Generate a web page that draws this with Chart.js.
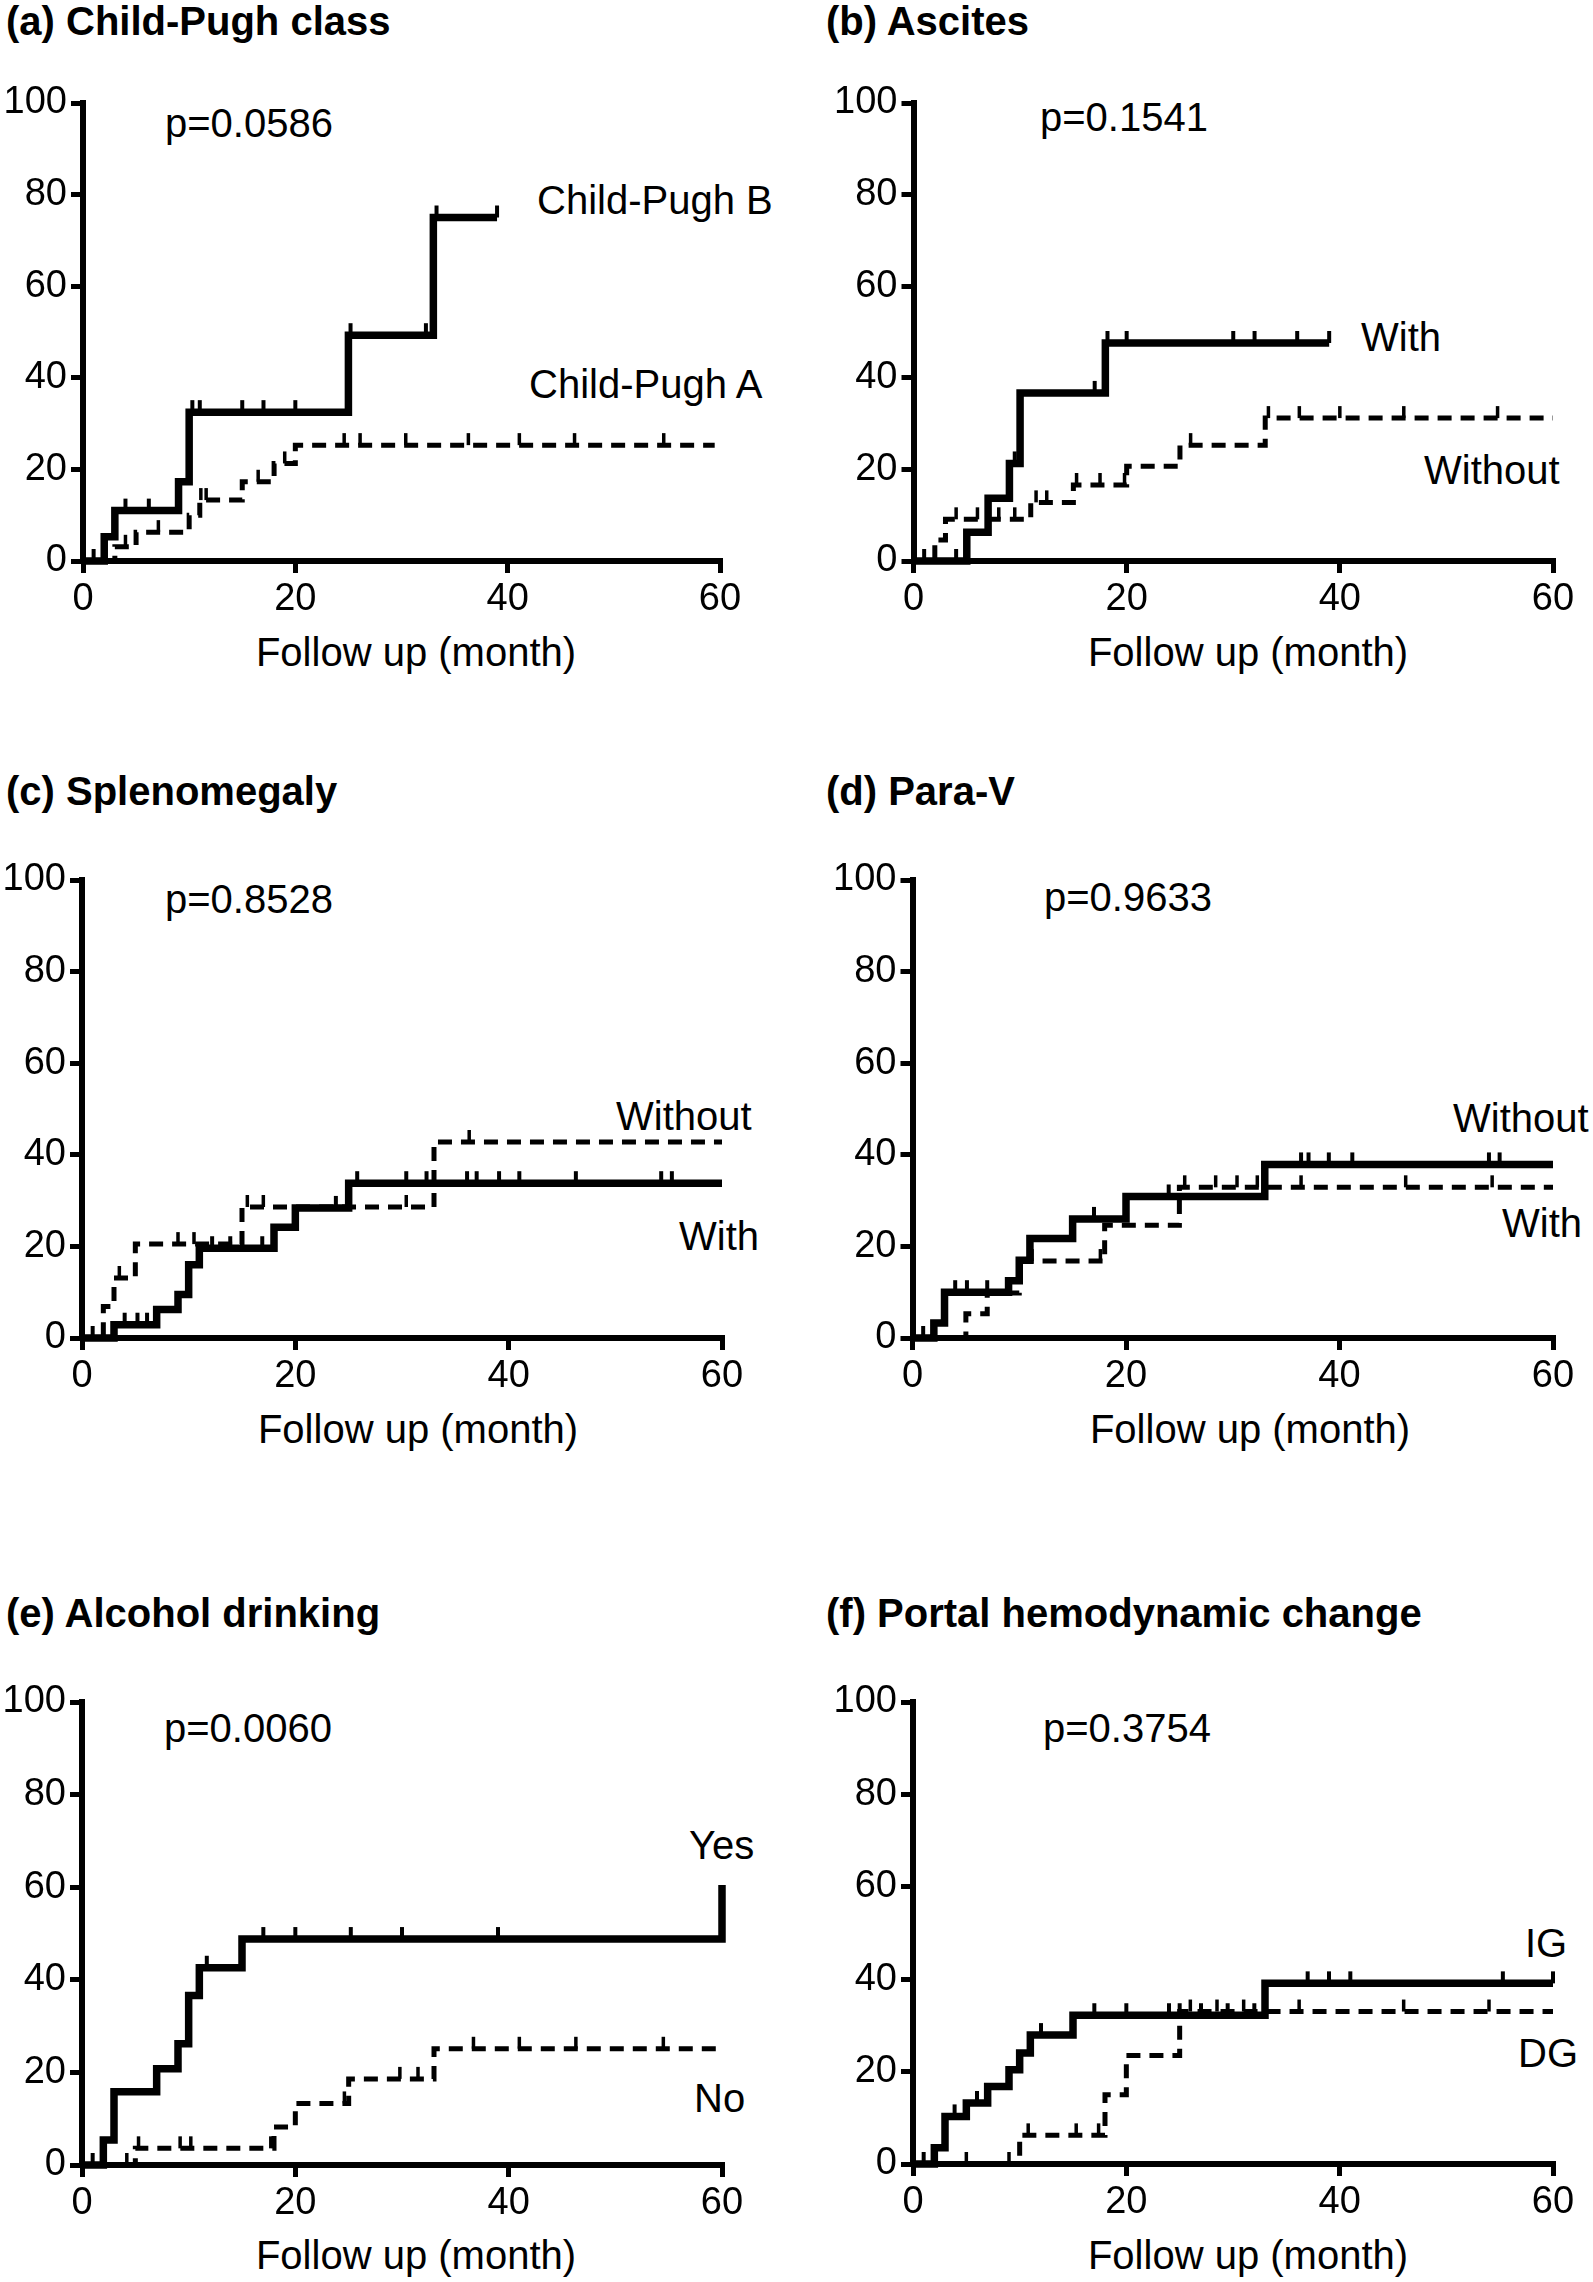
<!DOCTYPE html>
<html lang="en">
<head>
<meta charset="UTF-8">
<title>Cumulative incidence by risk factor</title>
<script src="https://cdn.jsdelivr.net/npm/chart.js"></script>
<style>
  body { margin: 0; background: #fff; }
  #page { position: relative; width: 1593px; height: 2282px; overflow: hidden;
          font-family: "Liberation Sans", Arial, sans-serif; color: #000; background: #fff; }
  canvas { position: absolute; }
  .txt { position: absolute; font-size: 40px; line-height: 40px; white-space: nowrap; }
  .ttl { font-weight: bold; }
  .xt { text-align: center; width: 400px; }
</style>
</head>
<body>
<div id="page">
  <!-- panel titles -->
  <div class="txt ttl" style="left:6px; top:1px;">(a) Child-Pugh class</div>
  <div class="txt ttl" style="left:826px; top:1px;">(b) Ascites</div>
  <div class="txt ttl" style="left:6px; top:771px;">(c) Splenomegaly</div>
  <div class="txt ttl" style="left:826px; top:771px;">(d) Para-V</div>
  <div class="txt ttl" style="left:6px; top:1593px;">(e) Alcohol drinking</div>
  <div class="txt ttl" style="left:826px; top:1593px;">(f) Portal hemodynamic change</div>

  <!-- p values -->
  <div class="txt" style="left:165px; top:103px;">p=0.0586</div>
  <div class="txt" style="left:1040px; top:97px;">p=0.1541</div>
  <div class="txt" style="left:165px; top:879px;">p=0.8528</div>
  <div class="txt" style="left:1044px; top:877px;">p=0.9633</div>
  <div class="txt" style="left:164px; top:1708px;">p=0.0060</div>
  <div class="txt" style="left:1043px; top:1708px;">p=0.3754</div>

  <!-- curve labels -->
  <div class="txt" style="left:537px; top:180px;">Child-Pugh B</div>
  <div class="txt" style="left:529px; top:364px;">Child-Pugh A</div>
  <div class="txt" style="left:1361px; top:317px;">With</div>
  <div class="txt" style="left:1424px; top:450px;">Without</div>
  <div class="txt" style="left:616px; top:1096px;">Without</div>
  <div class="txt" style="left:679px; top:1216px;">With</div>
  <div class="txt" style="left:1453px; top:1098px;">Without</div>
  <div class="txt" style="left:1502px; top:1203px;">With</div>
  <div class="txt" style="left:689px; top:1825px;">Yes</div>
  <div class="txt" style="left:694px; top:2078px;">No</div>
  <div class="txt" style="left:1525px; top:1923px;">IG</div>
  <div class="txt" style="left:1518px; top:2033px;">DG</div>

  <!-- x axis titles -->
  <div class="txt xt" style="left:216px; top:632px;">Follow up (month)</div>
  <div class="txt xt" style="left:1048px; top:632px;">Follow up (month)</div>
  <div class="txt xt" style="left:218px; top:1409px;">Follow up (month)</div>
  <div class="txt xt" style="left:1050px; top:1409px;">Follow up (month)</div>
  <div class="txt xt" style="left:216px; top:2235px;">Follow up (month)</div>
  <div class="txt xt" style="left:1048px; top:2235px;">Follow up (month)</div>

  <canvas id="chartA"></canvas>
  <canvas id="chartB"></canvas>
  <canvas id="chartC"></canvas>
  <canvas id="chartD"></canvas>
  <canvas id="chartE"></canvas>
  <canvas id="chartF"></canvas>
</div>

<script>
// axis ticks
const X_TICKS = [0, 20, 40, 60];
const Y_TICKS = [0, 20, 40, 60, 80, 100];

// (a) Child-Pugh class  -- time (month), cumulative % after each step, censored times
const cpB_time = [0, 2, 3, 9, 10, 25, 33, 39];
const cpB_pct  = [0, 5.3, 11.0, 17.3, 32.5, 49.3, 75.0, 75.0];
const cpB_cens = [1, 4, 6.2, 10.3, 11, 15, 17, 20, 25.2, 32.3, 33.3, 39];
const cpA_time = [0, 3, 5, 10, 11, 15, 18, 20, 59.5];
const cpA_pct  = [0, 3.1, 6.3, 10.0, 13.3, 17.3, 21.3, 25.3, 25.3];
const cpA_cens = [4, 7.1, 11.1, 11.6, 16.5, 19, 24.6, 26.1, 30.4, 36.3, 41.1, 46.3, 54.7];

// (b) Ascites
const ascW_time  = [0, 5, 7, 9, 10, 18, 39];
const ascW_pct   = [0, 6.3, 13.7, 21.3, 36.7, 47.6, 47.6];
const ascW_cens  = [1, 4, 9.5, 17, 18.2, 20, 30, 32, 36, 39];
const ascWo_time = [0, 2, 3, 11, 15, 20, 25, 33, 60];
const ascWo_pct  = [0, 4.6, 9.1, 12.8, 16.6, 20.7, 25.3, 31.2, 31.2];
const ascWo_cens = [4, 6, 8, 9.5, 11.5, 12.5, 15.3, 17.5, 19.8, 26, 33.3, 36.2, 40, 46, 54.8];

// (c) Splenomegaly
const splW_time  = [0, 3, 7, 9, 10, 11, 18, 20, 25, 60];
const splW_pct   = [0, 2.9, 6.2, 9.5, 16.0, 19.6, 24.2, 28.4, 33.8, 33.8];
const splW_cens  = [1, 4, 5.2, 6.1, 12.2, 13.9, 15, 16.9, 23.8, 25.8, 30.4, 32.3, 36.1, 37, 39.1, 41, 46.3, 54.3, 55.3];
const splWo_time = [0, 2, 3, 5, 15, 33, 60];
const splWo_pct  = [0, 6.9, 13.1, 20.5, 28.6, 42.8, 42.8];
const splWo_cens = [3.5, 9, 10.5, 15.5, 17, 30.4, 36.3];

// (d) Para-V
const pvWo_time = [0, 2, 3, 9, 10, 11, 15, 20, 33, 60];
const pvWo_pct  = [0, 3.3, 10.0, 12.5, 17.0, 21.7, 26.0, 30.9, 37.9, 37.9];
const pvWo_cens = [1, 4, 5.1, 7, 17, 24, 36.4, 37.1, 39, 41.2, 54, 55];
const pvW_time  = [0, 5, 7, 10, 18, 25, 60];
const pvW_pct   = [0, 5.3, 9.8, 16.8, 24.6, 32.9, 32.9];
const pvW_cens  = [11.2, 17.6, 25.5, 28.4, 30.4, 32.3, 36.4, 46.2, 54.3];

// (e) Alcohol drinking
const alcY_time = [0, 2, 3, 7, 9, 10, 11, 15, 60];
const alcY_pct  = [0, 5.4, 15.8, 20.8, 26.2, 36.6, 42.6, 48.8, 60.5];
const alcY_cens = [1, 11.7, 17, 20, 25.2, 30, 39];
const alcN_time = [0, 5, 18, 20, 25, 33, 59.5];
const alcN_pct  = [0, 3.6, 8.2, 13.3, 18.6, 25.1, 25.1];
const alcN_cens = [4.2, 5.3, 9.2, 10.2, 17.7, 24.6, 29.8, 31.5, 36.7, 41, 46.3, 54.5];

// (f) Portal hemodynamic change
const phIG_time = [0, 2, 3, 5, 7, 9, 10, 11, 15, 33, 60];
const phIG_pct  = [0, 3.5, 10.3, 13.2, 16.8, 20.4, 24.0, 27.9, 32.2, 39.1, 39.1];
const phIG_cens = [1, 3.9, 6, 12, 17, 20, 24, 25, 27, 29.5, 32, 37, 39, 41, 55.3, 60];
const phDG_time = [0, 10, 18, 20, 25, 60];
const phDG_pct  = [0, 6.2, 15.0, 23.5, 33.0, 33.0];
const phDG_cens = [5, 9, 10.8, 15.3, 17.4, 26, 28.5, 31, 36.2, 46, 54];

const FONT = "'Liberation Sans', Arial, sans-serif";
const X_AXIS_H = 70;

function valueAt(times, pcts, t) {
  let v = pcts[0];
  for (let i = 0; i < times.length; i++) if (times[i] <= t) v = pcts[i];
  return v;
}

// little upward ticks for censored cases
const censorMarks = {
  id: 'censorMarks',
  afterDatasetsDraw(chart) {
    const { ctx, scales: { x, y } } = chart;
    ctx.save();
    ctx.strokeStyle = '#000';
    ctx.setLineDash([]);
    chart.data.datasets.forEach(ds => {
      ctx.lineWidth = ds.solid ? 4 : 3.5;
      ds.censored.forEach(t => {
        const px = x.getPixelForValue(t);
        const py = y.getPixelForValue(valueAt(ds.times, ds.pcts, t));
        ctx.beginPath();
        ctx.moveTo(px, py);
        ctx.lineTo(px, py - 12);
        ctx.stroke();
      });
    });
    ctx.restore();
  }
};

function axis(min, max, ticks, extra) {
  return Object.assign({
    type: 'linear', min: min, max: max,
    afterBuildTicks: s => { s.ticks = ticks.map(v => ({ value: v })); },
    grid: { drawOnChartArea: false, drawTicks: true, tickLength: 12, color: '#000', lineWidth: 5 },
    border: { display: true, color: '#000', width: 6 },
    ticks: { color: '#000', font: { family: FONT, size: 38 }, padding: 4, maxRotation: 0, autoSkip: false }
  }, extra);
}

function drawPanel(id, geo, curves) {
  const cv = document.getElementById(id);
  cv.width = geo.w; cv.height = geo.h;
  cv.style.left = geo.left + 'px';
  cv.style.top = geo.top + 'px';
  new Chart(cv, {
    type: 'line',
    data: {
      datasets: curves.map(c => ({
        data: c.times.map((t, i) => ({ x: t, y: c.pcts[i] })),
        times: c.times, pcts: c.pcts, censored: c.cens, solid: c.solid,
        stepped: 'before',
        borderColor: '#000',
        borderWidth: c.solid ? 7.5 : 5,
        borderDash: c.solid ? [] : [14, 9],
        borderCapStyle: 'butt',
        pointRadius: 0, fill: false, clip: false
      }))
    },
    options: {
      responsive: false, animation: false, devicePixelRatio: 1,
      layout: { padding: {
        left: 0,
        top: geo.area.t - geo.top,
        right: geo.left + geo.w - geo.area.r,
        bottom: geo.top + geo.h - geo.area.b - X_AXIS_H
      } },
      plugins: { legend: { display: false }, tooltip: { enabled: false } },
      scales: {
        x: axis(0, 60, X_TICKS, { afterFit: s => { s.height = X_AXIS_H; } }),
        y: axis(0, 100, Y_TICKS, { afterFit: s => { s.width = geo.area.l - geo.left; } })
      }
    },
    plugins: [censorMarks]
  });
}

drawPanel('chartA', { left: 0, top: 60, w: 790, h: 640, area: { l: 83, r: 720, t: 103, b: 561 } }, [
  { times: cpB_time, pcts: cpB_pct, cens: cpB_cens, solid: true },
  { times: cpA_time, pcts: cpA_pct, cens: cpA_cens, solid: false }
]);
drawPanel('chartB', { left: 800, top: 60, w: 793, h: 640, area: { l: 913.5, r: 1553, t: 103, b: 561 } }, [
  { times: ascW_time, pcts: ascW_pct, cens: ascW_cens, solid: true },
  { times: ascWo_time, pcts: ascWo_pct, cens: ascWo_cens, solid: false }
]);
drawPanel('chartC', { left: 0, top: 830, w: 790, h: 640, area: { l: 82, r: 722, t: 880, b: 1338 } }, [
  { times: splW_time, pcts: splW_pct, cens: splW_cens, solid: true },
  { times: splWo_time, pcts: splWo_pct, cens: splWo_cens, solid: false }
]);
drawPanel('chartD', { left: 800, top: 830, w: 793, h: 640, area: { l: 912.5, r: 1553, t: 880, b: 1338 } }, [
  { times: pvWo_time, pcts: pvWo_pct, cens: pvWo_cens, solid: true },
  { times: pvW_time, pcts: pvW_pct, cens: pvW_cens, solid: false }
]);
drawPanel('chartE', { left: 0, top: 1650, w: 790, h: 632, area: { l: 82, r: 722, t: 1702, b: 2165 } }, [
  { times: alcY_time, pcts: alcY_pct, cens: alcY_cens, solid: true },
  { times: alcN_time, pcts: alcN_pct, cens: alcN_cens, solid: false }
]);
drawPanel('chartF', { left: 800, top: 1650, w: 793, h: 632, area: { l: 913, r: 1553, t: 1702, b: 2164 } }, [
  { times: phIG_time, pcts: phIG_pct, cens: phIG_cens, solid: true },
  { times: phDG_time, pcts: phDG_pct, cens: phDG_cens, solid: false }
]);
</script>
</body>
</html>
